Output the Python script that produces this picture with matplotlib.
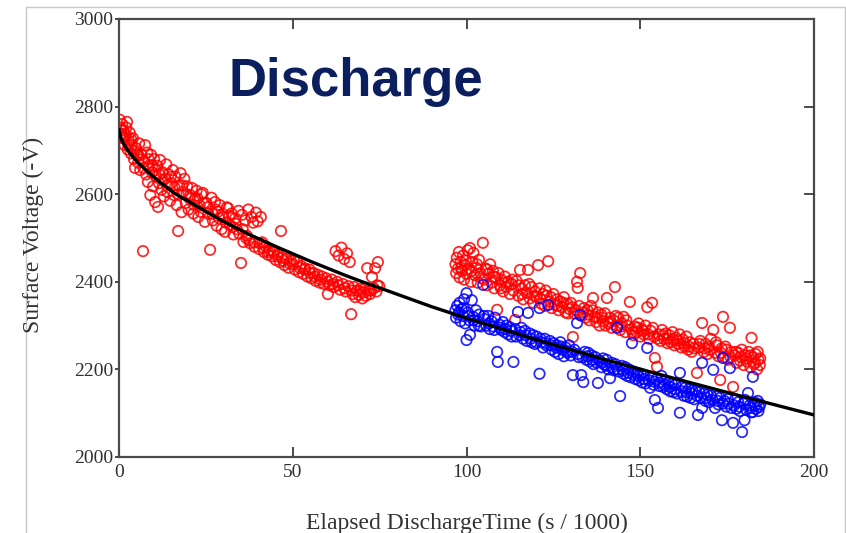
import numpy as np
import matplotlib
matplotlib.use('Agg')
import matplotlib.pyplot as plt
from matplotlib.patches import Rectangle

plt.rcParams['font.family'] = ['Liberation Serif', 'DejaVu Serif']

# fitted curve
curve_x = [0, 0.5, 1, 2, 3, 4, 5, 6, 8, 10, 12, 14, 16, 18, 20, 22, 24, 26, 28, 30,
           32, 34, 36, 38, 40, 45, 50, 55, 60, 65, 70, 75, 90, 100, 120, 140, 160, 180, 200]
curve_v = [2747, 2729, 2720, 2706, 2695, 2685, 2676, 2668, 2653, 2639, 2626, 2614, 2602, 2592,
           2584, 2574, 2565, 2556, 2547, 2538, 2530, 2522, 2514, 2506, 2499, 2481, 2464, 2447,
           2431, 2415, 2400, 2386, 2343, 2317, 2268, 2222, 2179, 2137, 2096]

# first discharge run (red, 0-75)
red1_x = [0.2, 0.4, 0.6, 0.9, 1.1, 1.3, 1.6, 1.9, 2.1, 2.3, 2.5, 2.8, 3.1, 3.4, 3.7, 4.0, 4.3, 4.6,
          4.9, 5.2, 5.5, 5.8, 6.1, 6.4, 6.9, 7.2, 7.5, 7.8, 8.1, 8.3, 8.7, 9.0, 9.2, 9.5, 9.8, 10.1,
          10.4, 10.7, 11.0, 11.2, 11.5, 11.8, 12.2, 12.5, 12.9, 13.2, 13.6, 13.9, 14.3, 14.7, 15.0,
          15.5, 15.8, 16.2, 16.6, 17.0, 17.3, 17.7, 18.0, 18.4, 18.8, 19.2, 19.6, 20.0, 20.5, 21.0,
          21.4, 21.9, 22.3, 22.8, 23.2, 23.7, 24.1, 24.7, 25.2, 25.7, 26.2, 26.6, 27.0, 27.6, 28.1,
          28.5, 29.0, 29.5, 30.0, 30.5, 31.0, 31.4, 31.9, 32.4, 32.9, 33.4, 33.9, 34.4, 35.1, 35.4,
          35.8, 36.3, 36.8, 37.2, 37.7, 38.1, 38.6, 39.0, 39.4, 39.9, 40.3, 40.8, 41.2, 41.7, 42.3,
          42.8, 43.4, 44.0, 44.6, 45.1, 45.7, 46.3, 46.6, 47.0, 47.6, 48.2, 48.8, 49.4, 50.0, 50.6,
          51.2, 51.8, 52.4, 53.0, 53.6, 54.2, 54.8, 55.4, 56.0, 56.6, 57.2, 57.8, 58.4, 59.0, 59.6,
          60.1, 60.6, 61.2, 61.8, 62.3, 62.8, 63.2, 63.6, 64.0, 64.4, 64.8, 65.2, 65.6, 66.0, 66.4,
          66.8, 67.2, 67.6, 68.0, 68.5, 69.0, 69.5, 70.0, 70.5, 71.0, 71.4, 71.8, 72.2, 72.8, 73.3,
          73.7, 74.1, 74.5, 74.9,
          0.7, 1.5, 2.7, 3.5, 4.5, 5.6, 6.7, 7.0, 8.5, 9.6, 10.5, 11.6, 12.7, 13.8, 14.9, 16.0,
          17.1, 18.2, 19.4, 20.3, 21.6, 22.6, 23.5, 24.5, 25.5, 26.9, 27.8, 28.8, 29.8, 30.8,
          31.7, 32.7, 33.6, 34.6, 35.6, 36.6, 37.5, 38.9, 40.5, 41.5, 43.0, 44.3, 45.5, 47.3,
          49.0, 50.3, 52.0, 53.3, 55.0, 56.3, 58.0, 60.0, 61.5, 63.0, 65.0, 67.0, 69.2, 70.8,
          72.5, 74.3]
red1_v = [2770, 2752, 2738, 2760, 2728, 2745, 2712, 2735, 2752, 2765, 2702, 2722, 2740, 2693, 2712,
          2728, 2680, 2660, 2705, 2690, 2672, 2716, 2655, 2690, 2470, 2675, 2712, 2645, 2695, 2628,
          2665, 2598, 2690, 2650, 2618, 2680, 2582, 2640, 2665, 2571, 2625, 2678, 2610, 2650, 2595,
          2635, 2668, 2605, 2645, 2585, 2625, 2655, 2598, 2640, 2575, 2516, 2620, 2648, 2559, 2605,
          2635, 2580, 2618, 2565, 2598, 2614, 2556, 2590, 2608, 2548, 2575, 2600, 2603, 2537, 2580,
          2555, 2473, 2592, 2540, 2582, 2528, 2560, 2575, 2520, 2548, 2514, 2570, 2568, 2530, 2556,
          2508, 2545, 2520, 2562, 2443, 2553, 2491, 2540, 2505, 2565, 2488, 2548, 2535, 2480, 2558,
          2538, 2475, 2548, 2490, 2468, 2480, 2462, 2472, 2458, 2468, 2450, 2462, 2445, 2516, 2455,
          2438, 2452, 2432, 2448, 2440, 2428, 2445, 2422, 2436, 2418, 2430, 2412, 2428, 2408, 2420,
          2402, 2416, 2398, 2412, 2395, 2408, 2372, 2392, 2405, 2388, 2470, 2400, 2460, 2382, 2478,
          2395, 2452, 2378, 2465, 2390, 2445, 2326, 2372, 2388, 2365, 2380, 2370, 2384, 2362, 2376,
          2368, 2431, 2380, 2372, 2411, 2385, 2431, 2378, 2445, 2390,
          2748, 2730, 2712, 2725, 2700, 2688, 2680, 2660, 2680, 2665, 2655, 2645, 2632, 2620,
          2640, 2615, 2600, 2620, 2600, 2590, 2575, 2590, 2560, 2580, 2570, 2555, 2565, 2545,
          2555, 2535, 2550, 2525, 2532, 2510, 2520, 2500, 2495, 2490, 2488, 2478, 2468, 2470,
          2458, 2448, 2442, 2450, 2432, 2428, 2420, 2412, 2405, 2400, 2395, 2392, 2385, 2380,
          2378, 2385, 2380, 2392]

# second run, upper (red, 97-184)
red2_x = [96.8, 97.0, 97.2, 97.5, 97.8, 98.0, 98.3, 98.6, 99.0, 99.3, 99.6, 100.0, 100.3, 100.7,
          101.0, 101.3, 101.7, 102.0, 102.4, 102.8, 103.2, 103.6, 104.0, 104.7, 105.1, 105.5, 105.9,
          106.3, 106.8, 107.2, 107.6, 108.0, 108.4, 108.8, 109.2, 109.6, 110.0, 110.5, 111.0, 111.5,
          112.0, 112.5, 113.0, 113.5, 114.0, 114.4, 114.9, 115.4, 115.8, 116.3, 116.8, 117.3, 117.7,
          118.2, 118.7, 119.2, 119.7, 120.2, 120.6, 121.0, 121.5, 122.0, 122.5, 123.0, 123.5, 124.0,
          124.5, 125.0, 125.5, 126.0, 126.5, 127.0, 127.5, 128.0, 128.5, 129.0, 129.5, 130.0, 130.6,
          131.0, 131.8, 132.0, 132.4, 132.7, 133.2, 133.8, 134.3, 134.8, 135.3, 135.8, 136.4, 136.8,
          137.3, 137.8, 138.3, 138.8, 139.3, 139.8, 140.4, 140.8, 141.3, 141.8, 142.3, 142.7, 143.2,
          143.7, 144.2, 144.7, 145.2, 145.7, 146.2, 147.0, 147.5, 148.0, 148.5, 149.0, 149.5, 150.0,
          150.5, 151.0, 151.5, 152.0, 152.5, 153.0, 153.4, 154.0, 154.2, 154.8, 155.3, 155.8, 156.3,
          156.8, 157.3, 157.8, 158.3, 158.8, 159.3, 159.8, 160.3, 160.8, 161.3, 161.8, 162.3, 162.8,
          163.3, 163.8, 164.3, 164.8, 165.3, 166.3, 166.8, 167.3, 167.8, 168.3, 168.8, 169.3, 169.8,
          170.3, 171.0, 171.5, 172.0, 172.5, 173.0, 173.4, 173.8, 174.3, 174.8, 175.3, 175.8, 176.2,
          176.7, 177.2, 177.7, 178.2, 178.7, 179.2, 179.7, 180.2, 180.7, 181.2, 181.7, 182.0, 182.4,
          182.8, 183.2, 183.6, 184.0, 184.4,
          98.5, 99.8, 101.5, 103.0, 104.5, 106.0, 107.9, 109.9, 111.2, 113.2, 115.0, 116.0, 118.0,
          119.5, 121.2, 122.8, 124.2, 126.2, 127.8, 129.2, 130.3, 131.5, 133.5, 135.0, 136.2,
          137.5, 139.0, 140.0, 141.5, 143.0, 144.5, 146.0, 147.8, 149.2, 150.8, 152.2, 153.6,
          155.0, 156.5, 158.0, 159.5, 161.0, 162.5, 164.0, 165.5, 167.0, 168.5, 170.0, 171.8,
          173.2, 174.5, 176.0, 177.5, 179.0, 180.5, 181.8, 183.0, 183.8, 184.5]
red2_v = [2440, 2420, 2455, 2430, 2468, 2410, 2445, 2425, 2460, 2405, 2438, 2418, 2472, 2430, 2477,
          2400, 2445, 2466, 2415, 2432, 2398, 2450, 2420, 2489, 2405, 2430, 2392, 2418, 2440, 2398,
          2425, 2385, 2410, 2336, 2420, 2392, 2405, 2378, 2412, 2388, 2400, 2372, 2395, 2380, 2313,
          2402, 2368, 2427, 2385, 2360, 2392, 2375, 2427, 2362, 2388, 2352, 2378, 2365, 2438, 2385,
          2350, 2372, 2345, 2368, 2447, 2355, 2340, 2372, 2348, 2360, 2335, 2355, 2342, 2365, 2330,
          2350, 2338, 2352, 2274, 2328, 2400, 2386, 2345, 2420, 2322, 2340, 2318, 2335, 2312, 2345,
          2363, 2320, 2308, 2330, 2300, 2325, 2310, 2328, 2363, 2305, 2318, 2295, 2312, 2388, 2300,
          2318, 2290, 2305, 2320, 2285, 2300, 2354, 2292, 2278, 2298, 2285, 2305, 2275, 2292, 2280,
          2300, 2342, 2270, 2288, 2352, 2275, 2226, 2206, 2280, 2265, 2290, 2270, 2282, 2260, 2278,
          2262, 2285, 2255, 2272, 2258, 2280, 2250, 2268, 2252, 2275, 2245, 2262, 2240, 2258, 2192,
          2250, 2265, 2306, 2240, 2258, 2235, 2252, 2270, 2290, 2238, 2255, 2230, 2176, 2248, 2320,
          2228, 2245, 2222, 2295, 2240, 2160, 2232, 2215, 2238, 2220, 2245, 2210, 2232, 2218, 2240,
          2205, 2272, 2228, 2212, 2235, 2200, 2222, 2210,
          2432, 2448, 2425, 2440, 2408, 2428, 2412, 2385, 2398, 2405, 2392, 2372, 2395, 2368,
          2362, 2380, 2365, 2345, 2352, 2328, 2342, 2335, 2330, 2325, 2335, 2318, 2318, 2300,
          2308, 2322, 2298, 2312, 2285, 2295, 2288, 2280, 2295, 2270, 2278, 2270, 2268, 2266,
          2260, 2252, 2248, 2258, 2248, 2245, 2262, 2238, 2252, 2228, 2240, 2228, 2225, 2232,
          2215, 2240, 2225]

# second run, lower (blue, 97-184)
blue_x = [96.8, 97.0, 97.3, 97.6, 98.0, 98.3, 98.6, 99.0, 99.3, 99.6, 100.0, 100.0, 100.4, 100.8,
          101.0, 101.5, 101.9, 102.3, 102.7, 103.2, 103.6, 104.1, 104.8, 105.2, 105.7, 106.2, 106.7,
          107.2, 107.7, 108.2, 108.8, 109.0, 109.5, 110.0, 110.5, 111.0, 111.5, 112.0, 112.5, 113.0,
          113.5, 114.0, 114.8, 115.3, 115.8, 116.3, 116.8, 117.3, 117.7, 118.2, 118.7, 119.2, 119.7,
          120.2, 121.0, 121.0, 121.5, 122.0, 122.5, 123.0, 123.5, 124.0, 124.5, 125.0, 125.5, 126.0,
          126.5, 127.0, 127.5, 128.0, 128.5, 129.0, 129.5, 130.0, 130.6, 131.0, 131.8, 132.3, 132.7,
          133.0, 133.6, 134.0, 134.5, 135.0, 135.5, 136.0, 136.5, 137.0, 137.8, 138.3, 138.8, 139.3,
          139.8, 140.3, 140.8, 141.3, 141.8, 142.3, 142.8, 143.3, 143.8, 144.2, 144.7, 145.2, 145.7,
          146.2, 146.7, 147.2, 147.6, 148.1, 148.6, 149.1, 149.6, 150.1, 150.6, 151.1, 151.6, 152.0,
          152.8, 153.3, 153.8, 154.2, 154.7, 155.1, 155.6, 156.1, 156.6, 157.1, 157.6, 158.1, 158.6,
          159.1, 159.6, 160.1, 160.6, 161.4, 161.4, 162.0, 162.5, 163.0, 163.5, 164.0, 164.5, 165.0,
          165.5, 166.0, 166.6, 167.0, 167.8, 167.8, 168.3, 168.8, 169.3, 169.8, 170.3, 171.0, 171.5,
          172.0, 172.5, 173.0, 173.5, 173.8, 174.2, 174.7, 175.2, 175.8, 176.2, 176.7, 177.2, 177.7,
          178.2, 178.7, 179.3, 179.7, 180.0, 180.5, 181.0, 181.5, 182.0, 182.4, 182.4, 182.9, 183.3,
          183.8, 184.2, 184.5,
          97.8, 99.2, 100.6, 102.0, 103.5, 105.0, 106.5, 108.0, 109.8, 111.3, 112.8, 114.3, 115.6,
          117.0, 118.5, 120.0, 121.3, 122.8, 124.3, 125.8, 127.3, 128.8, 130.3, 132.0, 133.4,
          134.8, 136.2, 137.5, 139.0, 140.5, 142.0, 143.5, 145.0, 146.5, 148.0, 149.5, 151.0,
          152.5, 154.0, 155.5, 157.0, 158.5, 160.0, 161.8, 163.2, 164.8, 166.3, 167.5, 169.0,
          170.8, 172.3, 173.8, 175.5, 177.0, 178.5, 180.2, 181.8, 183.0, 184.0]
blue_v = [2335, 2318, 2345, 2325, 2352, 2310, 2338, 2322, 2360, 2305, 2374, 2267, 2330, 2312, 2279,
          2358, 2320, 2300, 2335, 2310, 2325, 2298, 2393, 2315, 2300, 2322, 2292, 2310, 2298, 2318,
          2240, 2217, 2302, 2290, 2308, 2285, 2300, 2280, 2296, 2275, 2217, 2292, 2331, 2278, 2295,
          2270, 2288, 2265, 2329, 2282, 2262, 2278, 2258, 2275, 2340, 2190, 2262, 2250, 2270, 2255,
          2347, 2265, 2245, 2260, 2240, 2255, 2235, 2262, 2245, 2230, 2250, 2238, 2255, 2232, 2187,
          2245, 2306, 2228, 2324, 2187, 2171, 2240, 2222, 2238, 2218, 2232, 2212, 2228, 2169, 2220,
          2205, 2225, 2210, 2222, 2200, 2180, 2215, 2198, 2212, 2295, 2195, 2139, 2208, 2190, 2205,
          2185, 2200, 2182, 2260, 2195, 2178, 2192, 2175, 2190, 2170, 2186, 2168, 2249, 2158, 2182,
          2165, 2130, 2178, 2112, 2170, 2185, 2160, 2175, 2155, 2170, 2150, 2168, 2148, 2165, 2145,
          2101, 2192, 2160, 2140, 2158, 2138, 2155, 2135, 2152, 2132, 2150, 2096, 2148, 2215, 2112,
          2145, 2128, 2142, 2125, 2140, 2199, 2112, 2138, 2120, 2135, 2084, 2226, 2128, 2115, 2132,
          2203, 2112, 2078, 2130, 2110, 2125, 2105, 2057, 2122, 2084, 2108, 2146, 2118, 2102, 2183,
          2103, 2125, 2110, 2128, 2114, 2120,
          2330, 2340, 2322, 2312, 2300, 2322, 2305, 2290, 2295, 2292, 2288, 2275, 2285, 2278,
          2270, 2262, 2270, 2260, 2255, 2250, 2252, 2242, 2240, 2235, 2228, 2230, 2222, 2215,
          2215, 2208, 2205, 2200, 2198, 2192, 2188, 2185, 2178, 2175, 2172, 2162, 2165, 2160,
          2155, 2150, 2148, 2145, 2140, 2135, 2135, 2130, 2128, 2122, 2122, 2118, 2115, 2130,
          2112, 2118, 2105]

fig = plt.figure(figsize=(8.46, 5.33), dpi=100)
ax = fig.add_axes([0.1407, 0.1426, 0.8215, 0.8218])

mk = dict(s=56, facecolors='none', linewidths=1.25)
ax.scatter(red1_x, red1_v, edgecolors=(1, 0, 0, 0.85), **mk)
ax.scatter(red2_x, red2_v, edgecolors=(1, 0, 0, 0.85), **mk)
ax.scatter(blue_x, blue_v, edgecolors=(0, 0, 1, 0.85), **mk)
ax.plot(curve_x, curve_v, color='black', lw=2.4, zorder=5)

ax.set_xlim(0, 200)
ax.set_ylim(2000, 3000)
ax.set_xticks([0, 50, 100, 150, 200])
ax.set_yticks([2000, 2200, 2400, 2600, 2800, 3000])

for s in ax.spines.values():
    s.set_color('#4a4a4a')
    s.set_linewidth(1.6)

ax.tick_params(axis='x', direction='in', length=7, width=1.3, color='#3a3a3a',
               top=True, labelsize=14, labelcolor='#303030', pad=5)
ax.tick_params(axis='y', which='both', left=True, right=False, direction='out', length=3,
               width=1.3, color='#3a3a3a', labelsize=14, labelcolor='#303030', pad=1)
for y in [2200, 2400, 2600, 2800]:
    ax.plot([197.5, 200], [y, y], color='#3a3a3a', lw=1.3, clip_on=False, zorder=6)

fig.text(33 / 846, 1 - 235 / 533, 'Surface Voltage (-V)', rotation=90, ha='center',
         va='center', fontsize=17, color='#333333')
fig.text(467 / 846, 1 - 523 / 533, 'Elapsed DischargeTime (s / 1000)', ha='center',
         va='center', fontsize=17, color='#333333')
fig.text(228 / 846, 1 - 82 / 533, 'Discharge', ha='left', va='center', fontsize=38,
         fontweight='bold', family='Liberation Sans', color='#0b1f5e')

fig.patches.append(Rectangle((26 / 846, -0.02), (845 - 26) / 846, (533 - 7) / 533 + 0.02,
                             transform=fig.transFigure, fill=False, edgecolor='#c8c8c8', lw=1))

fig.savefig('out.png', dpi=100)
